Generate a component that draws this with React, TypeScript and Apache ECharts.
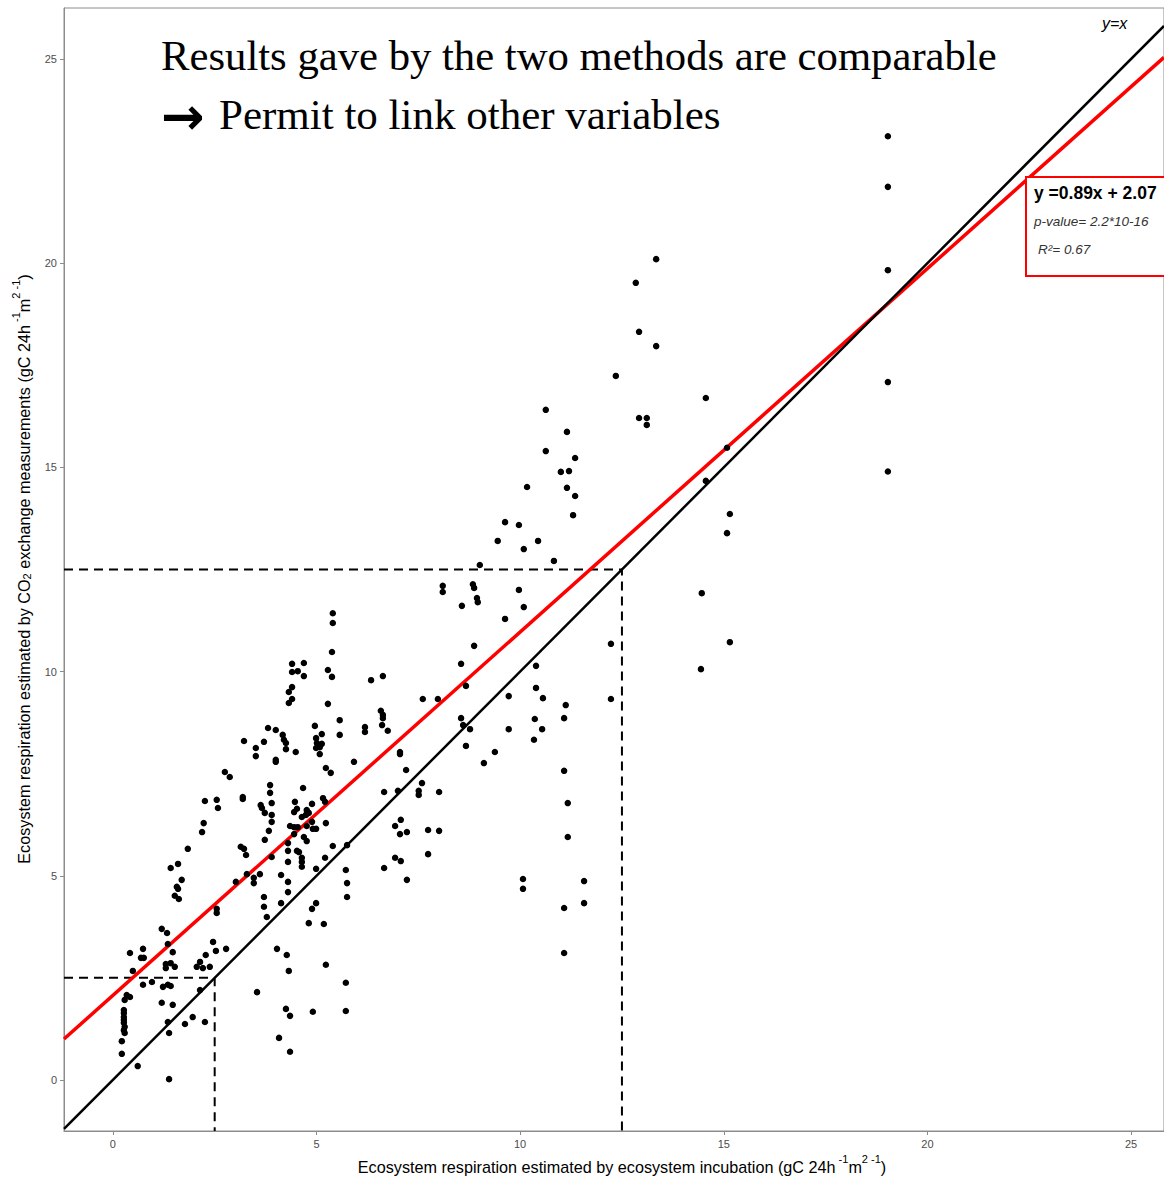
import React, { useEffect, useRef } from "react";
import * as echarts from "echarts";

// Axis ranges and ticks
const X_MIN = -1.2;
const X_MAX = 25.81;
const Y_MIN = -1.25;
const Y_MAX = 26.25;
const xTicks = [0, 5, 10, 15, 20, 25];
const yTicks = [0, 5, 10, 15, 20, 25];

// Regression fit (y = 0.89x + 2.07)
const fitSlope = 0.89;
const fitIntercept = 2.07;

// Threshold guides (dashed)
const thresholds = [2.5, 12.5];

// Observations: [incubation, CO2 exchange]
const pointsLowLeft: number[][] = [
  [1.2, 3.7], [1.33, 3.6], [1.35, 3.33], [0.42, 3.11], [0.74, 3.21], [1.47, 3.13],
  [0.69, 2.99], [0.76, 2.99], [2.46, 3.38], [2.53, 3.16], [2.78, 3.21], [2.28, 3.06],
  [2.14, 2.89], [1.3, 2.84], [1.42, 2.86], [1.3, 2.74], [1.52, 2.77], [2.06, 2.77],
  [2.21, 2.74], [2.38, 2.77], [0.49, 2.67], [0.74, 2.33], [0.96, 2.4], [1.23, 2.28],
  [1.35, 2.33], [1.42, 2.3], [2.14, 2.2], [0.34, 2.08], [0.42, 2.03], [0.29, 1.96],
  [1.2, 1.89], [1.47, 1.84], [0.27, 1.71], [0.27, 1.64], [0.27, 1.54], [0.27, 1.47],
  [0.27, 1.4], [0.29, 1.3], [0.27, 1.22], [0.29, 1.15], [0.22, 0.95], [0.22, 0.64],
  [0.61, 0.34], [1.35, 1.42], [1.38, 1.15], [1.96, 1.54], [1.77, 1.37], [2.26, 1.42],
  [1.38, 0.02], [3.54, 2.15],
];

const pointsLowMid: number[][] = [
  [4.03, 3.21], [4.27, 3.06], [4.32, 2.67], [4.25, 1.74], [4.35, 1.57], [4.08, 1.03],
  [4.35, 0.69], [4.91, 1.67], [5.23, 2.82], [5.72, 2.38], [5.72, 1.69], [5.18, 3.82],
  [4.81, 3.84],
];

const pointsCore: number[][] = [
  [3.81, 8.62], [4.0, 8.57], [4.17, 8.45], [4.2, 8.33], [4.25, 8.25], [4.25, 8.1],
  [4.49, 8.03], [3.22, 8.3], [3.51, 8.13], [3.71, 8.28], [3.51, 7.93], [4.0, 7.84],
  [4.0, 7.79], [4.96, 8.67], [5.13, 8.47], [4.99, 8.37], [5.01, 8.25], [5.08, 8.15],
  [5.13, 8.23], [4.99, 8.13], [5.08, 7.98], [5.57, 8.45], [5.57, 8.81], [2.75, 7.54],
  [2.87, 7.42], [5.23, 7.64], [5.35, 7.52], [3.86, 7.22], [3.86, 7.03], [4.67, 7.15],
  [3.9, 6.78], [3.63, 6.73], [3.66, 6.66], [3.19, 6.93], [3.19, 6.88], [2.26, 6.83],
  [2.55, 6.86], [2.58, 6.66], [3.73, 6.54], [3.9, 6.49], [3.9, 6.32], [4.47, 6.81],
  [4.89, 6.76], [5.16, 6.9], [5.21, 6.81], [4.52, 6.64], [4.45, 6.56], [4.76, 6.61],
  [4.81, 6.54], [4.74, 6.49], [4.64, 6.44], [4.35, 6.22], [4.45, 6.19], [4.54, 6.19],
  [4.76, 6.22], [4.89, 6.32], [4.91, 6.15], [4.99, 6.15], [5.23, 6.29], [2.23, 6.29],
  [2.19, 6.07], [3.83, 6.1], [4.45, 6.02], [3.73, 5.88], [4.3, 5.8], [4.69, 5.95],
  [4.76, 5.85], [4.52, 5.61], [4.57, 5.58], [4.3, 5.61], [1.84, 5.66], [3.14, 5.71],
  [3.22, 5.66], [3.27, 5.51], [3.9, 5.46], [4.3, 5.34], [4.64, 5.44], [4.64, 5.34],
  [4.64, 5.22], [5.21, 5.44], [5.4, 5.73], [5.75, 5.75], [5.72, 5.14], [4.99, 5.17],
  [1.42, 5.19], [1.6, 5.29], [1.69, 4.9], [1.57, 4.73], [1.6, 4.68], [1.52, 4.51],
  [1.62, 4.43], [3.29, 5.04], [3.61, 5.04], [3.46, 4.95], [3.46, 4.82], [3.02, 4.85],
  [4.13, 5.02], [4.3, 4.85], [4.3, 4.6], [3.71, 4.48], [3.71, 4.24], [3.78, 3.99],
  [4.13, 4.33], [4.99, 4.33], [4.89, 4.19], [5.75, 4.82], [5.75, 4.48], [2.55, 4.19],
  [2.55, 4.09],
];

const pointsUpperCore: number[][] = [
  [5.4, 11.43], [5.4, 11.19], [5.38, 10.48], [4.4, 10.19], [4.4, 9.99], [4.54, 10.01],
  [4.69, 10.21], [4.69, 9.89], [5.28, 10.04], [5.38, 9.87], [4.4, 9.62], [4.32, 9.5],
  [4.4, 9.33], [4.32, 9.23], [5.28, 9.21], [6.34, 9.79], [6.63, 9.89], [6.58, 9.04],
  [6.63, 8.94], [6.63, 8.86], [6.19, 8.64], [6.19, 8.52], [6.61, 8.69], [6.75, 8.55],
  [7.05, 7.98], [5.92, 7.79],
];

const pointsMid: number[][] = [
  [9.01, 12.61], [8.1, 12.1], [8.1, 11.95], [8.84, 12.14], [8.87, 12.05], [8.94, 11.8],
  [8.96, 11.7], [8.57, 11.61], [8.87, 10.63], [8.55, 10.19], [8.67, 9.65], [7.61, 9.33],
  [7.98, 9.33], [8.55, 8.86], [8.6, 8.69], [8.77, 8.59], [8.67, 8.18], [9.38, 8.03],
  [7.05, 8.03], [9.11, 7.76], [7.2, 7.59], [7.59, 7.27], [6.66, 7.05], [7.0, 7.08],
  [7.51, 7.08], [7.51, 6.98], [8.01, 7.05], [10.34, 8.33], [7.07, 6.37], [6.93, 6.22],
  [7.05, 6.02], [7.22, 6.07], [7.74, 6.12], [8.01, 6.1], [7.74, 5.53], [6.93, 5.44],
  [7.07, 5.36], [6.66, 5.19], [7.22, 4.9], [10.07, 4.92], [10.07, 4.68],
];

const pointsUpperMid: number[][] = [
  [10.63, 16.41], [11.15, 15.87], [10.63, 15.4], [11.35, 15.23], [11.0, 14.89], [11.2, 14.91],
  [11.15, 14.5], [11.35, 14.3], [10.17, 14.52], [11.3, 13.83], [9.63, 13.66], [9.97, 13.59],
  [9.45, 13.2], [10.44, 13.2], [10.09, 13.0], [10.83, 12.71], [9.97, 12.0],
  [10.09, 11.58], [9.63, 11.29], [12.23, 10.68], [10.39, 10.14], [10.39, 9.6], [9.72, 9.4],
  [10.56, 9.35], [11.12, 9.18], [12.23, 9.33], [11.08, 8.86], [10.36, 8.84], [9.72, 8.59],
  [10.54, 8.59], [11.08, 7.57], [11.17, 6.78], [11.17, 5.95], [11.57, 4.87], [11.57, 4.33],
  [11.08, 4.21], [11.08, 3.11],
];

const pointsHigh: number[][] = [
  [13.34, 20.1], [12.84, 19.52], [12.92, 18.32], [13.34, 17.97], [12.35, 17.24], [14.56, 16.7],
  [12.92, 16.21], [13.11, 16.21], [13.11, 16.04], [15.08, 15.48], [14.56, 14.67], [15.15, 13.86],
  [15.08, 13.39], [14.46, 11.92], [15.15, 10.72], [14.44, 10.06],
  [19.03, 23.11], [19.03, 21.87], [19.03, 19.83], [19.03, 17.09], [19.03, 14.9],
];

const allPoints = [
  ...pointsLowLeft, ...pointsLowMid, ...pointsCore, ...pointsUpperCore,
  ...pointsMid, ...pointsUpperMid, ...pointsHigh,
];

const AXIS_GRAY = "#8c8c8c";
const LABEL_GRAY = "#4d4d4d";

const titleRich = {
  base: { fontSize: 16.2, fontFamily: "Liberation Sans", color: "#000", lineHeight: 22, verticalAlign: "bottom" },
  sup: { fontSize: 11, fontFamily: "Liberation Sans", color: "#000", verticalAlign: "top" },
  sub: { fontSize: 11, fontFamily: "Liberation Sans", color: "#000", verticalAlign: "bottom" },
};

export default function App() {
  const ref = useRef<HTMLDivElement>(null);
  useEffect(() => {
    if (!ref.current) return;
    const chart = echarts.init(ref.current, undefined, { renderer: "svg" });
    const fit = (x: number) => fitSlope * x + fitIntercept;
    const dashedSeries = thresholds.map((t) => ({
      type: "line",
      data: [[X_MIN, t], [t, t], [t, Y_MIN]],
      symbol: "none",
      lineStyle: { color: "#000", width: 2, type: [9, 6] },
      silent: true,
      z: 2,
    }));
    chart.setOption({
      animation: false,
      grid: {
        left: 64, right: 0, top: 8, bottom: 47,
        show: true, borderColor: AXIS_GRAY, borderWidth: 1,
        outerBoundsMode: "none",
      },
      xAxis: {
        type: "value", min: X_MIN, max: X_MAX,
        splitLine: { show: false },
        axisLine: { show: true, onZero: false, lineStyle: { color: AXIS_GRAY, width: 1 } },
        axisTick: { show: true, customValues: xTicks, length: 4, lineStyle: { color: AXIS_GRAY } },
        axisLabel: { customValues: xTicks, color: LABEL_GRAY, fontSize: 11, margin: 7, fontFamily: "Liberation Sans" },
      },
      yAxis: {
        type: "value", min: Y_MIN, max: Y_MAX,
        splitLine: { show: false },
        axisLine: { show: true, onZero: false, lineStyle: { color: AXIS_GRAY, width: 1 } },
        axisTick: { show: true, customValues: yTicks, length: 4, lineStyle: { color: AXIS_GRAY } },
        axisLabel: { customValues: yTicks, color: LABEL_GRAY, fontSize: 11, margin: 7, fontFamily: "Liberation Sans" },
      },
      series: [
        ...dashedSeries,
        {
          type: "line",
          data: [[X_MIN, fit(X_MIN)], [X_MAX, fit(X_MAX)]],
          symbol: "none",
          lineStyle: { color: "#ff0000", width: 3.5 },
          silent: true,
          z: 3,
        },
        {
          type: "line",
          data: [[X_MIN, X_MIN], [X_MAX, X_MAX]],
          symbol: "none",
          lineStyle: { color: "#000", width: 2.5 },
          silent: true,
          z: 4,
        },
        {
          type: "scatter",
          data: allPoints,
          symbol: "circle",
          symbolSize: 6.5,
          itemStyle: { color: "#000", opacity: 1 },
          z: 5,
        },
      ],
      graphic: [
        {
          type: "text", left: 161, top: 34, z: 10,
          style: { text: "Results gave by the two methods are comparable", font: "42.7px 'Liberation Serif'", fill: "#000" },
        },
        {
          type: "text", left: 161, top: 90, z: 10,
          style: { text: "→", font: "bold 52px 'DejaVu Sans'", fill: "#000" },
        },
        {
          type: "text", left: 219, top: 93, z: 10,
          style: { text: "Permit to link other variables", font: "43px 'Liberation Serif'", fill: "#000" },
        },
        {
          type: "text", left: 1102, top: 15, z: 10,
          style: { text: "y=x", font: "italic 16px 'Liberation Sans'", fill: "#000" },
        },
        {
          type: "rect", z: 10,
          shape: { x: 1026, y: 177, width: 160, height: 99 },
          style: { fill: "#fff", stroke: "#ff0000", lineWidth: 2 },
        },
        {
          type: "text", left: 1034, top: 184, z: 11,
          style: { text: "y =0.89x + 2.07", font: "bold 17.5px 'Liberation Sans'", fill: "#000" },
        },
        {
          type: "text", left: 1034, top: 214, z: 11,
          style: { text: "p-value= 2.2*10-16", font: "italic 13.5px 'Liberation Sans'", fill: "#333" },
        },
        {
          type: "text", left: 1038, top: 242, z: 11,
          style: { text: "R²= 0.67", font: "italic 13.5px 'Liberation Sans'", fill: "#333" },
        },
        {
          type: "text", z: 10,
          x: 622, y: 1164,
          style: {
            text: "{base|Ecosystem respiration estimated by ecosystem incubation (gC 24h}{sup| -1}{base|m}{sup|2 -1}{base|)}",
            rich: titleRich, align: "center", verticalAlign: "middle",
          },
        },
        {
          type: "text", z: 10,
          x: 21, y: 569, rotation: Math.PI / 2,
          style: {
            text: "{base|Ecosystem respiration estimated by CO}{sub|2}{base| exchange measurements (gC 24h}{sup| -1}{base|m}{sup|2 -1}{base|)}",
            rich: titleRich, align: "center", verticalAlign: "middle",
          },
        },
      ],
    });
    return () => chart.dispose();
  }, []);
  return (
    <div
      ref={ref}
      style={{ position: "fixed", left: 0, top: 0, width: 1164, height: 1178, background: "#fff" }}
    />
  );
}
